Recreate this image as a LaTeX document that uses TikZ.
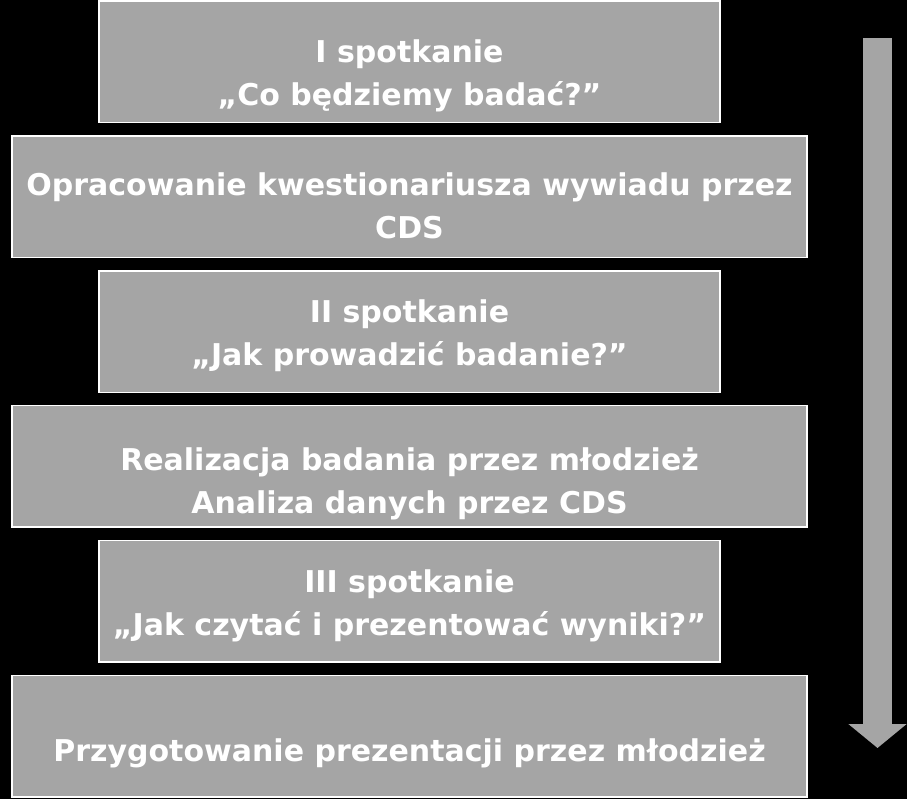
\documentclass[tikz,border=0pt]{standalone}
\usepackage{fontspec}
\setmainfont{DejaVu Sans}
\usepackage{tikz}
\usetikzlibrary{positioning}
\usetikzlibrary {arrows.meta}
\definecolor{boxgray}{HTML}{A5A5A5}

\begin{document}
\begin{tikzpicture}[x=1pt,y=-1pt,
        stepbox/.style={draw=white, line width=1.5pt, fill=boxgray, text=white,
            font=\bfseries\fontsize{30}{43}\selectfont, align=center,
            minimum height=121.5pt, text depth=0pt,
            execute at begin node={\rule{0pt}{#1}}},
        narrowbox/.style={stepbox=#1, minimum width=621pt},
        widebox/.style={stepbox=#1, minimum width=795pt},
        node distance=11.8pt]
        \fill[black] (0,0) rectangle (907,799);
        \useasboundingbox (0,0) rectangle (907,799);

        % I spotkanie
        \node[narrowbox=88pt] (s1) at (409.5,62) {I spotkanie\\„Co będziemy badać?”};

        % Kwestionariusz
        \node[widebox=82.6pt, below=of s1] (k) {Opracowanie kwestionariusza wywiadu przez\\CDS};

        % II spotkanie
        \node[narrowbox=68.6pt, below=of k] (s2) {II spotkanie\\„Jak prowadzić badanie?”};

        % Realizacja i analiza
        \node[widebox=94.6pt, below=of s2] (r) {Realizacja badania przez młodzież\\Analiza danych przez CDS};

        % III spotkanie
        \node[narrowbox=68.6pt, below=of r] (s3) {III spotkanie\\„Jak czytać i prezentować wyniki?”};

        % Prezentacja
        \node[widebox=50pt, below=of s3] (p) {Przygotowanie prezentacji przez młodzież};

        \coordinate (top) at (877.5,38);
        \coordinate (tip) at (877.5,748);
        \draw[boxgray, line width=29pt, -{Triangle[length=24pt, width=57pt]}] (top) -- (tip);
\end{tikzpicture}
\end{document}
